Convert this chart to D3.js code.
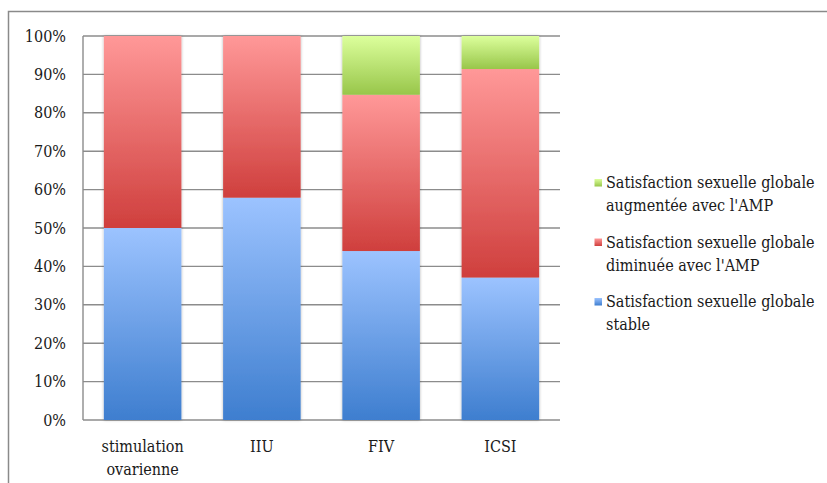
<!DOCTYPE html>
<html><head><meta charset="utf-8">
<script src="https://cdn.jsdelivr.net/npm/d3@7"></script>
<style>
html,body{margin:0;padding:0;background:#fff;}
svg text{font-family:"DejaVu Serif Condensed","DejaVu Serif",serif;fill:#1a1a1a;}
</style></head>
<body>
<svg id="chart" width="827" height="483"></svg>
<script>
const categories = ["stimulation ovarienne", "IIU", "FIV", "ICSI"];
const seriesNames = ["stable", "diminuee", "augmentee"];
const stable    = [50, 57.9, 44, 37.1];
const diminuee  = [50, 42.1, 40.7, 54.3];
const augmentee = [0, 0, 15.3, 8.6];
const yTicks = [0,10,20,30,40,50,60,70,80,90,100];
const legendLabels = [
  ["Satisfaction sexuelle globale", "augmentée avec l'AMP"],
  ["Satisfaction sexuelle globale", "diminuée avec l'AMP"],
  ["Satisfaction sexuelle globale", "stable"]
];
const legendKeys = ["augmentee", "diminuee", "stable"];
const colors = {
  stable:    ["#9cc3ff", "#3e7ecf"],
  diminuee:  ["#ff9898", "#cf3f3d"],
  augmentee: ["#dcff9c", "#98c64a"]
};

(function(){
const svg = d3.select("#chart");
const defs = svg.append("defs");
Object.entries(colors).forEach(([k, c]) => {
  const g = defs.append("linearGradient").attr("id", "g-" + k)
    .attr("x1", 0).attr("y1", 0).attr("x2", 0).attr("y2", 1);
  g.append("stop").attr("offset", "0%").attr("stop-color", c[0]);
  g.append("stop").attr("offset", "100%").attr("stop-color", c[1]);
});
const f = defs.append("filter").attr("id", "shadow").attr("x", "-20%").attr("y", "-5%").attr("width", "140%").attr("height", "110%");
f.append("feDropShadow").attr("dx", 0).attr("dy", 0).attr("stdDeviation", 1.6)
  .attr("flood-color", "#000").attr("flood-opacity", 0.3);

svg.append("path").attr("d", "M8.5,483 V11.5 H827").attr("fill", "none")
  .attr("stroke", "#8a8a8a").attr("stroke-width", 1.5);

const pl = 83, pr = 560, pt = 36, pb = 420;
const x = d3.scaleBand().domain(categories).range([pl, pr]).paddingInner(0.35).paddingOuter(0.175);
const y = d3.scaleLinear().domain([0, 100]).range([pb, pt]);

svg.append("g").selectAll("line").data(yTicks).join("line")
  .attr("x1", pl).attr("x2", pr)
  .attr("y1", d => y(d)).attr("y2", d => y(d))
  .attr("stroke", "#8c8c8c").attr("stroke-width", 1.4);
svg.append("line").attr("x1", pl).attr("x2", pl).attr("y1", pt).attr("y2", pb)
  .attr("stroke", "#8c8c8c").attr("stroke-width", 1.4);

const yAxis = d3.axisLeft(y).tickValues(yTicks).tickFormat(d => d + "%").tickSize(0).tickPadding(17);
const ya = svg.append("g").attr("transform", `translate(${pl},0)`).call(yAxis);
ya.select(".domain").remove();
ya.selectAll("text").attr("font-size", 16).attr("fill", "#1a1a1a")
  .style("font-family", '"DejaVu Serif Condensed","DejaVu Serif",serif');

const rows = categories.map((c, i) => ({cat: c, stable: stable[i], diminuee: diminuee[i], augmentee: augmentee[i]}));
const stack = d3.stack().keys(seriesNames)(rows);
const gBars = svg.append("g");
categories.forEach((c, i) => {
  const bg = gBars.append("g").attr("filter", "url(#shadow)");
  stack.forEach(s => {
    const d = s[i];
    if (d[1] - d[0] <= 0) return;
    bg.append("rect")
      .attr("x", x(c)).attr("width", x.bandwidth())
      .attr("y", y(d[1])).attr("height", y(d[0]) - y(d[1]))
      .attr("fill", `url(#g-${s.key})`);
  });
});

const xa = svg.append("g");
categories.forEach(c => {
  const words = c.split(" ");
  const t = xa.append("text").attr("text-anchor", "middle").attr("font-size", 16);
  words.forEach((w, j) => {
    t.append("tspan").attr("x", x(c) + x.bandwidth() / 2).attr("y", 452 + j * 23).text(w);
  });
});

const lg = svg.append("g");
legendKeys.forEach((k, i) => {
  const y0 = 188 + i * 59.5;
  lg.append("rect").attr("x", 594.5).attr("y", y0 - 9).attr("width", 7.5).attr("height", 7.5)
    .attr("fill", `url(#g-${k})`);
  const t = lg.append("text").attr("font-size", 16);
  legendLabels[i].forEach((line, j) => {
    t.append("tspan").attr("x", 606).attr("y", y0 + j * 23).text(line);
  });
});
})();
</script>
</body></html>
